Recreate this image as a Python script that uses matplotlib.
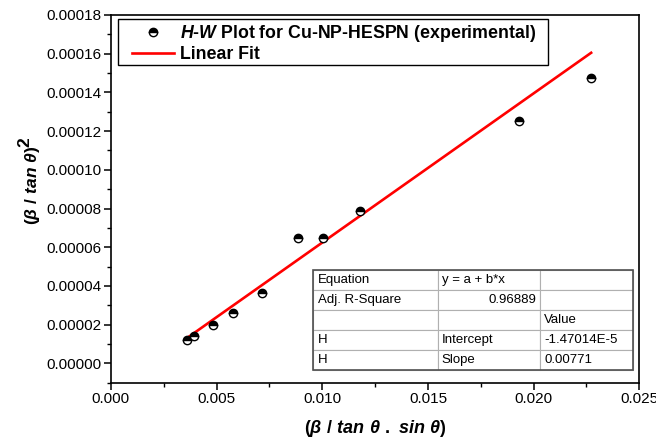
import numpy as np
import matplotlib
matplotlib.use("Agg")
import matplotlib.pyplot as plt
from matplotlib.patches import Rectangle

# ---- data ----
x_hw = [0.00359, 0.00395, 0.00482, 0.00579, 0.00714, 0.00884, 0.01005, 0.01179, 0.01932, 0.02272]
y_hw = [1.19e-5, 1.40e-5, 2.00e-5, 2.60e-5, 3.64e-5, 6.48e-5, 6.48e-5, 7.86e-5, 1.252e-4, 1.476e-4]

fit_intercept = -1.47014e-5
fit_slope = 0.00771
adj_r2 = "0.96889"

table_rows = [
    ["Equation", "y = a + b*x", ""],
    ["Adj. R-Square", adj_r2, ""],
    ["", "", "Value"],
    ["H", "Intercept", "-1.47014E-5"],
    ["H", "Slope", "0.00771"],
]

plt.rcParams['font.family'] = ['Liberation Sans', 'DejaVu Sans']
plt.rcParams['mathtext.fontset'] = 'custom'
plt.rcParams['mathtext.it'] = 'Liberation Sans:italic:bold'
plt.rcParams['mathtext.rm'] = 'Liberation Sans:bold'
plt.rcParams['mathtext.bf'] = 'Liberation Sans:bold'

fig = plt.figure(figsize=(6.56, 4.38), dpi=100)
ax = fig.add_axes([0.169, 0.1263, 0.8056, 0.8395])

ax.plot(x_hw, y_hw, linestyle='none', marker='o', markersize=6, fillstyle='top',
        markerfacecolor='black', markerfacecoloralt='white', markeredgecolor='black',
        markeredgewidth=1.0, label=r'$\mathit{H}$-$\mathit{W}$ Plot for Cu-NP-HESPN (experimental)', zorder=3)

xf = np.array([min(x_hw), max(x_hw)])
ax.plot(xf, fit_intercept + fit_slope * xf, color='#ff0000', linewidth=1.9, label='Linear Fit', zorder=2)

ax.set_xlim(0, 0.025)
ax.set_ylim(-0.00001, 0.00018)
ax.set_xticks(np.arange(0, 0.0251, 0.005))
ax.set_xticks(np.arange(0.0025, 0.025, 0.005), minor=True)
ax.set_yticks(np.arange(0, 0.000181, 0.00002))
ax.set_yticks(np.arange(-0.00001, 0.00018, 0.00002), minor=True)
ax.set_xticklabels([f"{v:.3f}" for v in np.arange(0, 0.0251, 0.005)])
ax.set_yticklabels([f"{v:.5f}" for v in np.arange(0, 0.000181, 0.00002)])
ax.tick_params(axis='both', which='major', direction='out', length=5, width=1.1, labelsize=11, pad=2)
ax.tick_params(axis='both', which='minor', direction='out', length=3, width=1.0)
for s in ax.spines.values():
    s.set_linewidth(1.2)

ax.set_xlabel(r'$\mathrm{(}\mathit{\beta\ /\ tan\ \theta\ .\ sin\ \theta}\mathrm{)}$', fontsize=13, labelpad=8)
ax.set_ylabel(r'$\mathrm{(}\mathit{\beta\ /\ tan\ \theta}\mathrm{)}$', fontsize=12.5)
ax.yaxis.set_label_coords(-0.131, 0.537)
# large superscript 2 like the original
ax.text(-0.163, 0.655, '2', transform=ax.transAxes, rotation=90, fontsize=12.5,
        fontweight='bold', ha='center', va='center')

# legend without frame, box drawn separately to match the original padding
leg = ax.legend(loc='upper left', bbox_to_anchor=(0.040, 0.977), frameon=False,
                borderaxespad=0, borderpad=0, handlelength=2.35, handletextpad=0.35,
                labelspacing=0.08, prop={'weight': 'bold', 'size': 12.8})
ax.add_patch(Rectangle((0.0142, 0.864), 0.8136, 0.1243, transform=ax.transAxes,
                       fill=False, edgecolor='black', linewidth=1.0, zorder=4))

# ---- fit results table ----
tbl = ax.table(cellText=table_rows, cellLoc='left', bbox=[0.382, 0.0345, 0.6066, 0.272],
               colWidths=[0.39, 0.32, 0.29], zorder=4)
tbl.auto_set_font_size(False)
tbl.set_fontsize(9.5)
for (r, c), cell in tbl.get_celld().items():
    cell.set_edgecolor('#b0b0b0')
    cell.set_linewidth(0.8)
    cell.set_facecolor('white')
    cell.PAD = 0.04
    if r == 1 and c == 1:
        cell._loc = 'right'
        cell.get_text().set_horizontalalignment('right')
ax.add_patch(Rectangle((0.382, 0.0345), 0.6066, 0.272, transform=ax.transAxes,
                       fill=False, edgecolor='#505050', linewidth=1.2, zorder=5))

fig.savefig('out.png', dpi=100)
